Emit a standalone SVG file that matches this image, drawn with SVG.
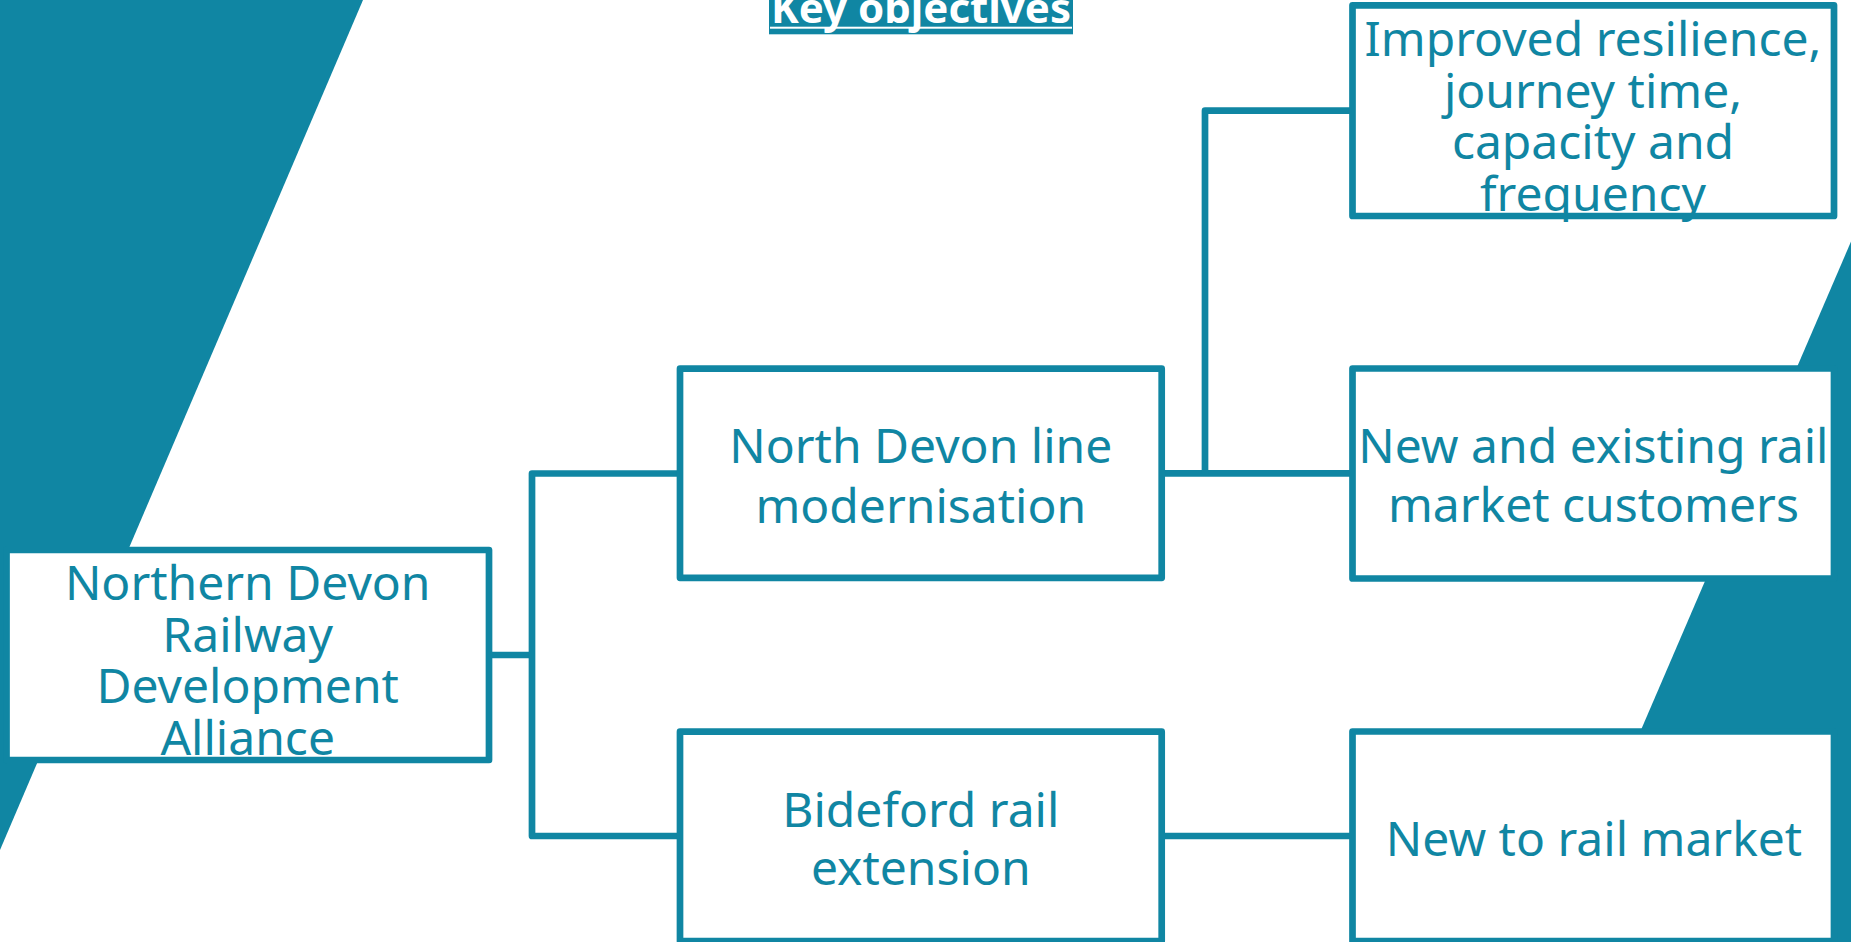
<svg xmlns="http://www.w3.org/2000/svg" width="1851" height="942" viewBox="0 0 1851 942">
<style>
.band{fill:#1086A3}
.box{fill:#fff;stroke:#1086A3;stroke-width:6.7;stroke-linejoin:round}
.conn{fill:none;stroke:#1086A3;stroke-width:6.7;stroke-linejoin:round}
.lbl{font-family:"Noto Sans","Open Sans","DejaVu Sans",sans-serif;font-size:48px;fill:#1086A3;text-anchor:middle}
.title{font-family:"Noto Sans","Open Sans","DejaVu Sans",sans-serif;font-size:42px;font-weight:bold;fill:#fff;text-anchor:middle}
</style>
<rect width="1851" height="942" fill="#fff"/>
<g id="background">
<polygon class="band" points="0,0 363,0 0,850"/>
<polygon class="band" points="1851,241.6 1851,942 1549.8,942"/>
</g>
<g id="title">
<rect x="769" y="0" width="304" height="34.3" fill="#1086A3"/>
<text class="title" x="921" y="22.5">Key objectives</text>
<rect x="770" y="26.7" width="302" height="2" fill="#fff"/>
</g>
<g id="connectors">
<path class="conn" d="M489,655 H532"/>
<path class="conn" d="M680,473.5 H532 V836 H680"/>
<path class="conn" d="M1161.7,473.3 H1352.5"/>
<path class="conn" d="M1205,473.3 V110.7 H1352.5"/>
<path class="conn" d="M1161.7,836 H1352.5"/>
</g>
<g id="node-root">
<rect class="box" x="6.5" y="550" width="482.5" height="210"/>
<text class="lbl" x="247.7" y="600">Northern Devon</text>
<text class="lbl" x="247.7" y="651.7">Railway</text>
<text class="lbl" x="247.7" y="703">Development</text>
<text class="lbl" x="247.7" y="755">Alliance</text>
</g>
<g id="node-modernisation">
<rect class="box" x="680" y="368.7" width="481.7" height="209.1"/>
<text class="lbl" x="920.8" y="463.3">North Devon line</text>
<text class="lbl" x="920.8" y="522.7">modernisation</text>
</g>
<g id="node-bideford">
<rect class="box" x="680" y="731.7" width="481.7" height="209.3"/>
<text class="lbl" x="920.8" y="827.3">Bideford rail</text>
<text class="lbl" x="920.8" y="885">extension</text>
</g>
<g id="node-resilience">
<rect class="box" x="1352.5" y="5.3" width="481.5" height="210.7"/>
<text class="lbl" x="1593" y="56">Improved resilience,</text>
<text class="lbl" x="1593" y="107.5">journey time,</text>
<text class="lbl" x="1593" y="159.2">capacity and</text>
<text class="lbl" x="1593" y="210.7">frequency</text>
</g>
<g id="node-existing">
<rect class="box" x="1352.5" y="368.5" width="481.5" height="210"/>
<text class="lbl" x="1593.4" y="463.3">New and existing rail</text>
<text class="lbl" x="1593.4" y="521.7">market customers</text>
</g>
<g id="node-newtorail">
<rect class="box" x="1352.5" y="731.5" width="481.5" height="209.5"/>
<text class="lbl" x="1594" y="855.7">New to rail market</text>
</g>
</svg>
